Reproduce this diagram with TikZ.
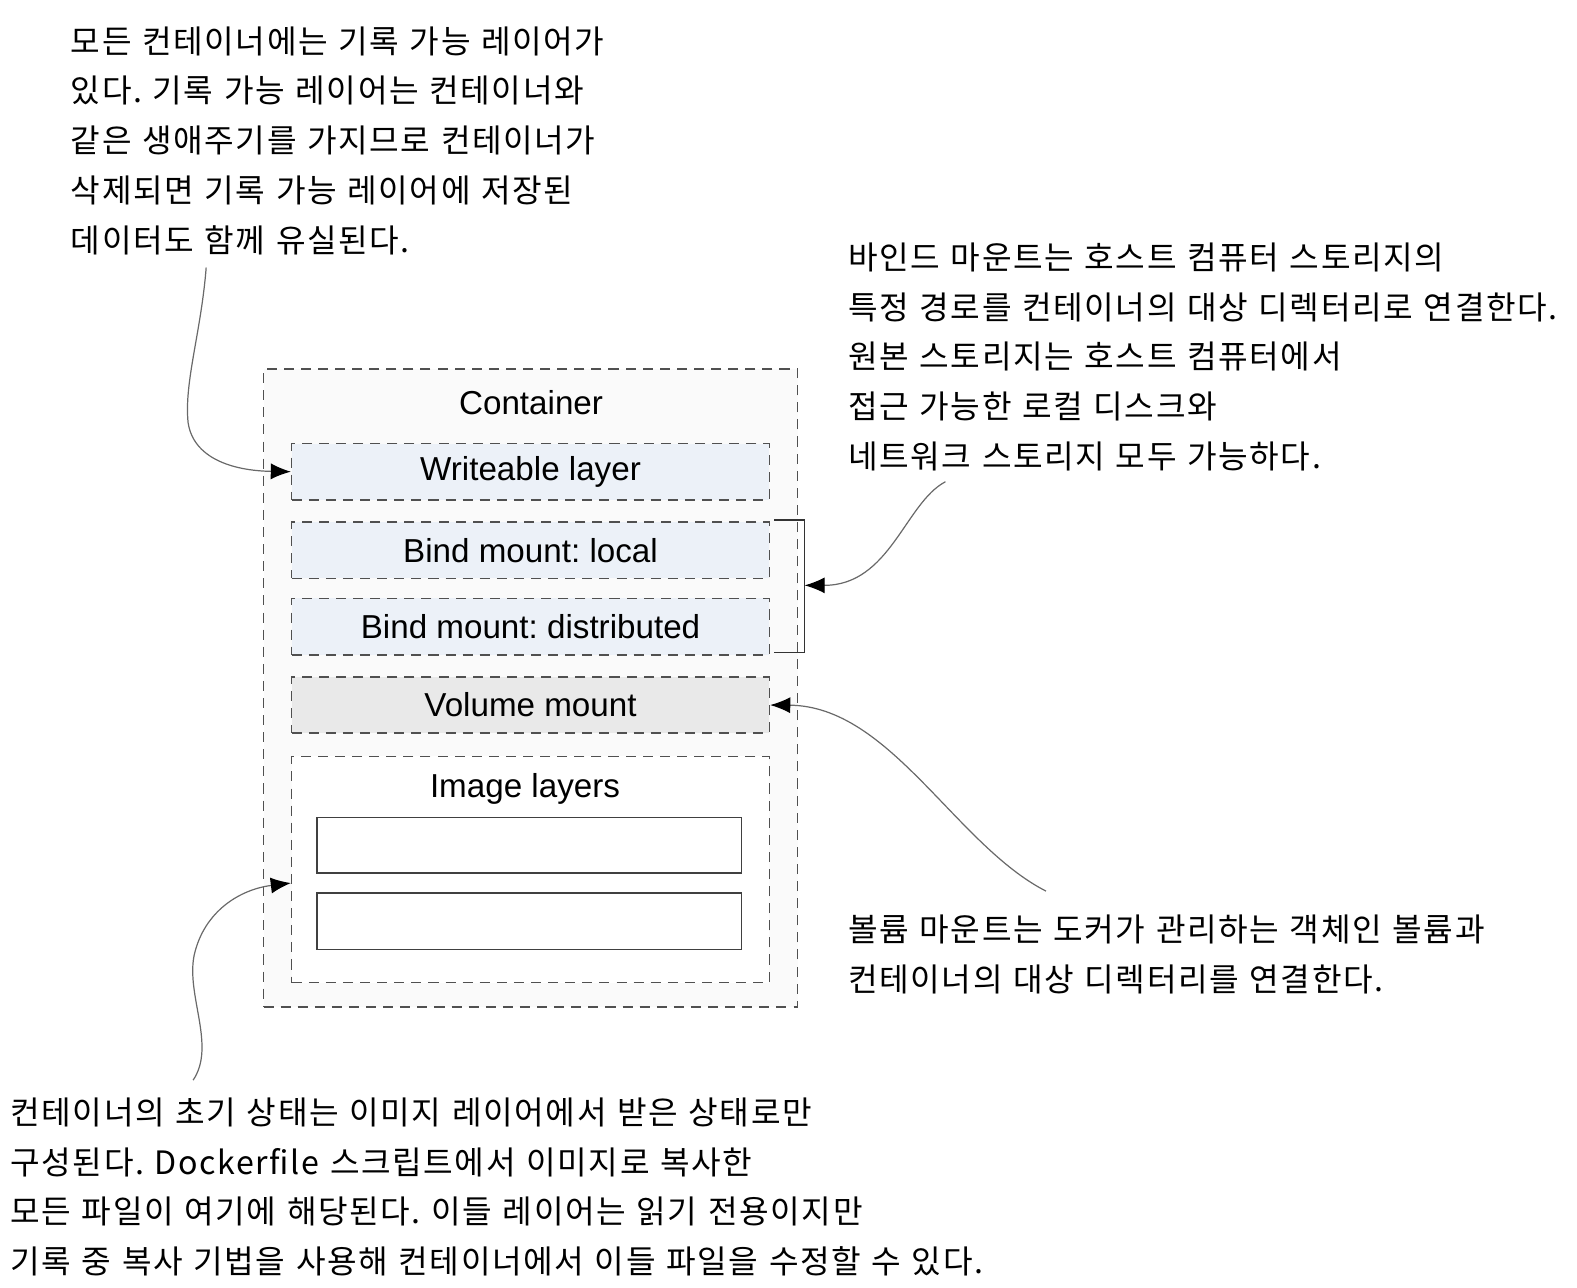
\documentclass[tikz,border=0pt]{standalone}
\usepackage{fontspec}
\setmainfont{Liberation Sans}
\newfontfamily\kr[LetterSpace=5, WordSpace=1.2]{Noto Sans CJK KR}
\usetikzlibrary{arrows.meta}
\frenchspacing

\definecolor{bindfill}{RGB}{236,241,248}
\definecolor{volfill}{RGB}{233,233,233}
\definecolor{boxfill}{RGB}{250,250,250}
\definecolor{dashgray}{RGB}{80,80,80}
\definecolor{linegray}{RGB}{105,105,105}

\tikzset{
  layer/.style={draw=dashgray, line width=0.75pt, dash pattern=on 5pt off 3.5pt,
    minimum width=237.5pt, minimum height=28pt, inner sep=0pt,
    font=\fontsize{16.5}{20}\selectfont},
  note/.style={anchor=north west, inner sep=0pt, align=left,
    font=\kr\fontsize{16}{24.75}\selectfont},
  pointer/.style={draw=linegray, line width=0.6pt,
    -{Latex[length=10pt,width=8pt,color=black]}},
}

\begin{document}
\begin{tikzpicture}[x=0.5pt, y=-0.5pt]
        \useasboundingbox (0,0) rectangle (1568,1280);

        % container and its layers
        \draw (527.5,684) node[layer, fill=boxfill, minimum width=265.5pt, minimum height=317pt] (container) {};
        \node at (528,400) [font=\fontsize{16.5}{20}\selectfont] (ctitle) {Container};
        \draw (527.5,469) node[layer, fill=bindfill] (writeable) {Writeable layer};
        \draw (527.5,547) node[layer, fill=bindfill] (bindlocal) {Bind mount: local};
        \draw (527.5,623) node[layer, fill=bindfill] (binddist) {Bind mount: distributed};
        \draw (527.5,701) node[layer, fill=volfill] (volume) {Volume mount};
        \draw (527.5,864.5) node[layer, fill=white, minimum height=112.5pt] (images) {};
        \node at (522,784) [font=\fontsize{16.5}{20}\selectfont] (ititle) {Image layers};
        \draw (526,840.5) node[draw=black!75, line width=0.7pt, minimum width=211pt, minimum height=27.5pt] (img1) {};
        \draw (526,916) node[draw=black!75, line width=0.7pt, minimum width=211pt, minimum height=28pt] (img2) {};

        % bracket round the two bind mounts
        \draw[line width=0.7pt, black!80] (770,517) -- (800,517) -- (800,649) -- (770,649);
        \coordinate (bindmid) at (800,582);

        % notes
        \node[note] (wnote) at (70,26) {모든 컨테이너에는 기록 가능 레이어가\\
            있다. 기록 가능 레이어는 컨테이너와\\
            같은 생애주기를 가지므로 컨테이너가\\
            삭제되면 기록 가능 레이어에 저장된\\
            데이터도 함께 유실된다.};
        \node[note] (bnote) at (843,241) {바인드 마운트는 호스트 컴퓨터 스토리지의\\
            특정 경로를 컨테이너의 대상 디렉터리로 연결한다.\\
            원본 스토리지는 호스트 컴퓨터에서\\
            접근 가능한 로컬 디스크와\\
            네트워크 스토리지 모두 가능하다.};
        \node[note] (vnote) at (843,909) {볼륨 마운트는 도커가 관리하는 객체인 볼륨과\\
            컨테이너의 대상 디렉터리를 연결한다.};
        \node[note] (inote) at (10,1091) {컨테이너의 초기 상태는 이미지 레이어에서 받은 상태로만\\
            구성된다. Dockerfile 스크립트에서 이미지로 복사한\\
            모든 파일이 여기에 해당된다. 이들 레이어는 읽기 전용이지만\\
            기록 중 복사 기법을 사용해 컨테이너에서 이들 파일을 수정할 수 있다.};

        % pointers
        \coordinate (wstart) at (205,266);
        \coordinate (bstart) at (940,479);
        \coordinate (vstart) at (1040,886);
        \coordinate (istart) at (192,1074);
        \draw[pointer] (wstart) .. controls (200,330) and (183,380) .. (187,420)
              .. controls (192,455) and (230,468) .. (writeable.west);
        \draw[pointer] (bstart) .. controls (900,500) and (885,582) .. (bindmid);
        \draw[pointer] (vstart) .. controls (950,840) and (885,702) .. (volume.east);
        \draw[pointer] (istart) .. controls (215,1040) and (185,990) .. (193,950)
              .. controls (203,905) and (240,884) .. ([yshift=-6.75pt]images.west);
\end{tikzpicture}
\end{document}
